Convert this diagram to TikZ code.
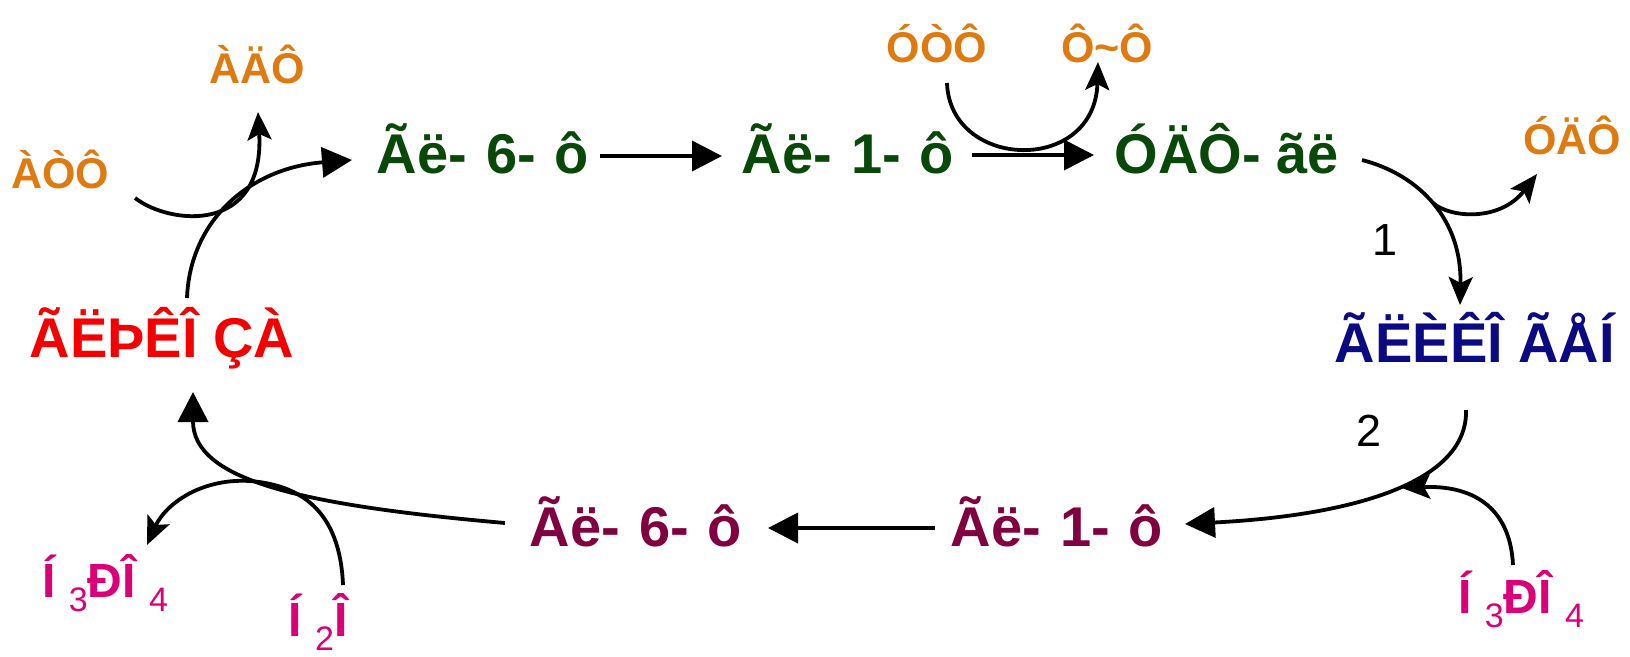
\documentclass[tikz,border=0pt]{standalone}
\usepackage{fontspec}
\setmainfont{Liberation Sans}
\usetikzlibrary{arrows.meta}
\definecolor{corange}{RGB}{222,122,16}
\definecolor{cgreen}{RGB}{8,72,8}
\definecolor{cblue}{RGB}{10,10,130}
\definecolor{cred}{RGB}{245,0,0}
\definecolor{cmaroon}{RGB}{128,0,64}
\definecolor{cmag}{RGB}{220,0,120}
\newcommand{\mysub}[1]{\raisebox{-14pt}{\mdseries\fontsize{34}{34}\selectfont #1}}
\newcommand{\wsp}{\hspace{0.34em}}
\begin{document}
\begin{tikzpicture}[x=1pt,y=-1pt,
  big/.style={font=\bfseries\fontsize{56}{60}\selectfont, inner sep=0pt, anchor=base},
  small/.style={font=\bfseries\fontsize{43}{46}\selectfont, inner sep=0pt, anchor=base, text=corange},
  chem/.style={font=\bfseries\fontsize{48}{52}\selectfont, inner sep=0pt, anchor=base, text=cmag},
  num/.style={font=\fontsize{45}{50}\selectfont, inner sep=0pt, anchor=center},
  line/.style={line width=3.8pt, black},
  bigtip/.style={-{Triangle[length=30pt,width=30pt]}},
  curvtip/.style={-{Stealth[length=28pt,width=24pt,inset=6pt]}}
]
\useasboundingbox (0,0) rectangle (1630,656);

% texts
\node[small] (adp1) at (257,83) {ÀÄÔ};
\node[small] (atp)  at (60,188) {ÀÒÔ};
\node[big, text=cgreen] (g6pt) at (483,173) {Ãë-\wsp 6-\wsp ô};
\node[big, text=cgreen] (g1pt) at (848,173) {Ãë-\wsp 1-\wsp ô};
\node[big, text=cgreen] (udpg) at (1227,173) {ÓÄÔ- ãë};
\node[small] (utp) at (937,62) {ÓÒÔ};
\node[small] (ppi) at (1107,62) {Ô\textasciitilde Ô};
\node[small] (udp) at (1572,154) {ÓÄÔ};
\node[num] (n1) at (1385,240) {1};
\node[big, text=cblue] (glyc) at (1475,362) {ÃËÈÊÎ ÃÅÍ};
\node[num] (n2) at (1369,431) {2};
\node[big, text=cmaroon] (g1pb) at (1057,546) {Ãë-\wsp 1-\wsp ô};
\node[big, text=cmaroon] (g6pb) at (636,546) {Ãë-\wsp 6-\wsp ô};
\node[big, text=cred] (gluc) at (162,357) {ÃËÞÊÎ ÇÀ};
\node[chem] (h3l) at (105,597) {Í \mysub{3}ÐÎ \mysub{4}};
\node[chem] (h2o) at (318,636) {Í \mysub{2}Î};
\node[chem] (h3r) at (1521,613) {Í \mysub{3}ÐÎ \mysub{4}};

% connector end points
\coordinate (glA) at (187,298);
\coordinate (glB) at (352,160);
\coordinate (atA) at (135,198);
\coordinate (adB) at (258,112);
\coordinate (t1A) at (600,156);
\coordinate (t1B) at (722,156);
\coordinate (t2A) at (972,155);
\coordinate (t2B) at (1094,155);
\coordinate (utA) at (947,83);
\coordinate (ppB) at (1098,62);
\coordinate (udA) at (1362,160);
\coordinate (glyB) at (1460,305);
\coordinate (brA) at (1433,203);
\coordinate (udpB) at (1537,174);
\coordinate (gyA) at (1466,410);
\coordinate (g1B) at (1185,524);
\coordinate (hrA) at (1513,565);
\coordinate (hrB) at (1402,488);
\coordinate (b1A) at (935,528);
\coordinate (b1B) at (768,528);
\coordinate (b2A) at (505,523);
\coordinate (b2B) at (193,392);
\coordinate (hwA) at (343,585);
\coordinate (hwM) at (250,481);
\coordinate (hlB) at (147,545);

% connectors
\draw[line, bigtip] (glA) .. controls (190,220) and (250,168) .. (glB);
\draw[line, curvtip] (atA) .. controls (170,225) and (265,235) .. (adB);
\draw[line, bigtip] (t1A) -- (t1B);
\draw[line, bigtip] (t2A) -- (t2B);
\draw[line, curvtip] (utA) .. controls (950,170) and (1095,175) .. (ppB);
\draw[line, curvtip] (udA) .. controls (1420,175) and (1462,220) .. (glyB);
\draw[line, curvtip] (brA) .. controls (1450,218) and (1500,222) .. (udpB);
\draw[line, bigtip] (gyA) .. controls (1468,480) and (1360,515) .. (g1B);
\draw[line, curvtip] (hrA) .. controls (1510,505) and (1470,485) .. (hrB);
\draw[line, bigtip] (b1A) -- (b1B);
\draw[line, bigtip] (b2A) .. controls (300,505) and (193,480) .. (b2B);
\draw[line, curvtip] (hwA) .. controls (340,510) and (300,485) .. (hwM)
      .. controls (200,478) and (165,505) .. (hlB);
\end{tikzpicture}
\end{document}
